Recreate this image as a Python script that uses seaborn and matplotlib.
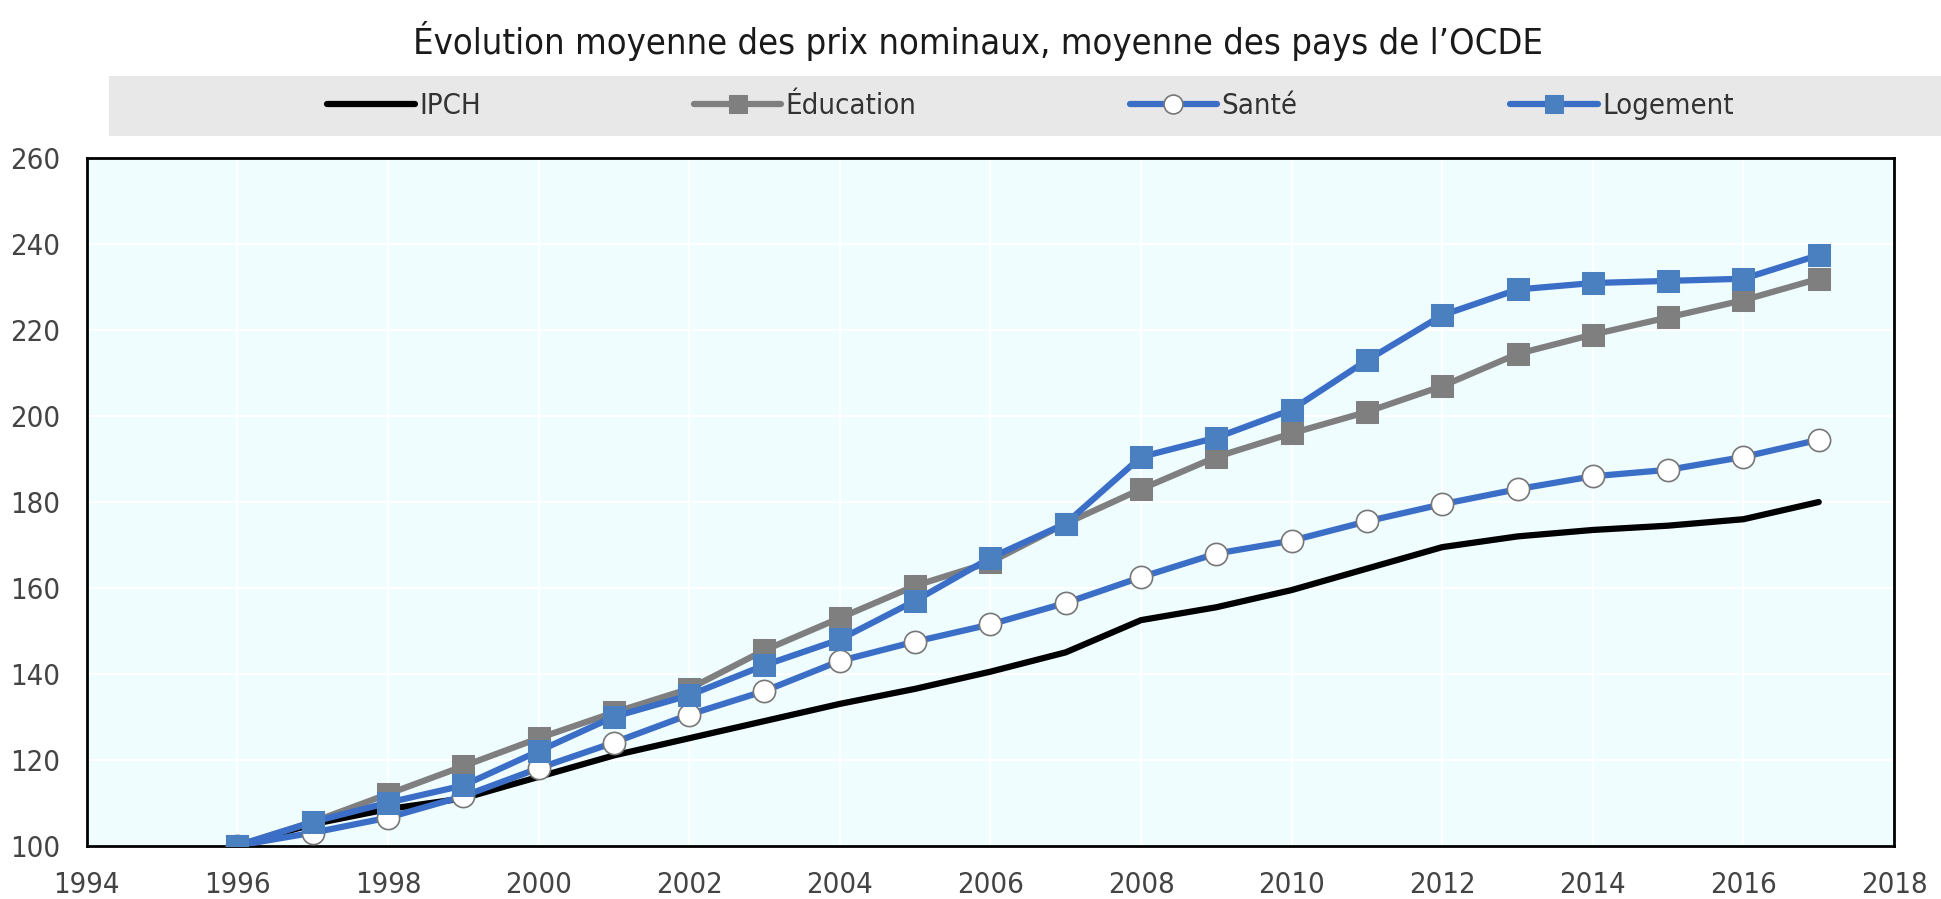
import seaborn as sns
import matplotlib.pyplot as plt
from matplotlib.patches import Rectangle
import pandas as pd
import numpy as np

years = list(range(1996, 2018))

ipch = [100, 105, 108.5, 111, 116, 121, 125, 129, 133, 136.5, 140.5, 145,
        152.5, 155.5, 159.5, 164.5, 169.5, 172, 173.5, 174.5, 176, 180]
education = [100, 105.5, 112, 118.5, 125, 131, 136.5, 145.5, 153, 160.5, 166, 175,
             183, 190.5, 196, 201, 207, 214.5, 219, 223, 227, 232]
sante = [100, 103, 106.5, 111.5, 118, 124, 130.5, 136, 143, 147.5, 151.5, 156.5,
         162.5, 168, 171, 175.5, 179.5, 183, 186, 187.5, 190.5, 194.5]
logement = [100, 105.5, 110, 114, 122, 130, 135, 142, 148, 157, 167, 175,
            190.5, 195, 201.5, 213, 223.5, 229.5, 231, 231.5, 232, 237.5]

df = pd.DataFrame({"annee": years, "IPCH": ipch, "Éducation": education,
                   "Santé": sante, "Logement": logement})

sns.set_theme(style="white")
plt.rcParams['font.family'] = ['DejaVu Sans']
plt.rcParams['font.stretch'] = 'condensed'

fig = plt.figure(figsize=(19.41, 8.99), dpi=100)
ax = fig.add_axes([0.0447, 0.0594, 0.9311, 0.7643])
ax.set_facecolor("#F0FDFF")

blue_line = "#3B6FC7"
blue_mark = "#4A80C0"
grey = "#7F7F7F"
lw = 4.5
ms = 16

sns.lineplot(data=df, x="annee", y="IPCH", ax=ax, color="black", lw=lw,
             label="IPCH", zorder=3)
sns.lineplot(data=df, x="annee", y="Éducation", ax=ax, color=grey, lw=lw,
             marker="s", markersize=ms, markerfacecolor=grey,
             markeredgecolor=grey, label="Éducation", zorder=4)
sns.lineplot(data=df, x="annee", y="Santé", ax=ax, color=blue_line, lw=lw,
             marker="o", markersize=ms, markerfacecolor="white",
             markeredgecolor="#777777", markeredgewidth=1.2,
             label="Santé", zorder=5)
sns.lineplot(data=df, x="annee", y="Logement", ax=ax, color=blue_line, lw=lw,
             marker="s", markersize=ms, markerfacecolor=blue_mark,
             markeredgecolor=blue_mark, label="Logement", zorder=6)

ax.set_xlim(1994, 2018)
ax.set_ylim(100, 260)
ax.set_xticks(range(1994, 2019, 2))
ax.set_yticks(range(100, 261, 20))
ax.grid(True, color="white", lw=1.5)
ax.set_axisbelow(True)
ax.set_xlabel("")
ax.set_ylabel("")
for s in ax.spines.values():
    s.set_visible(True)
    s.set_color("black")
    s.set_linewidth(2)
ax.tick_params(axis="both", direction="in", length=7, width=2, color="#333333",
               labelsize=21, labelcolor="#444444")
ax.tick_params(axis="x", pad=18)
ax.tick_params(axis="y", pad=19)

handles, labels = ax.get_legend_handles_labels()
ax.get_legend().remove()

fig.patches.append(Rectangle((0.0562, 0.849), 0.9438, 0.066, transform=fig.transFigure,
                             facecolor="#E8E8E8", edgecolor="none", zorder=0))
fig.legend(handles, labels, loc="center", bbox_to_anchor=(0.531, 0.882), ncol=4,
           frameon=False, fontsize=21, handlelength=3.0, handletextpad=0.15,
           columnspacing=7.3, labelcolor="#333333", markerscale=0.85)

fig.text(0.504, 0.954, "Évolution moyenne des prix nominaux, moyenne des pays de l’OCDE",
         ha="center", va="center", fontsize=26, color="#1a1a1a")

fig.savefig("out.png", dpi=100)
